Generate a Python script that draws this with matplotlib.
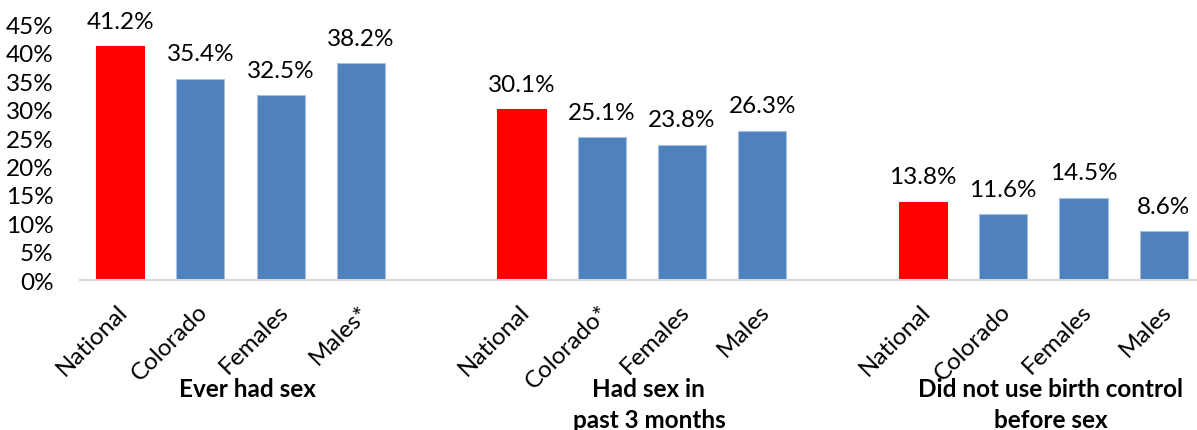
import matplotlib.pyplot as plt

plt.rcParams["font.family"] = ["Lato", "DejaVu Sans"]

groups = ["Ever had sex", "Had sex in\npast 3 months", "Did not use birth control\nbefore sex"]
categories = [
    ["National", "Colorado", "Females", "Males*"],
    ["National", "Colorado*", "Females", "Males"],
    ["National", "Colorado", "Females", "Males"],
]
values = [
    [41.2, 35.4, 32.5, 38.2],
    [30.1, 25.1, 23.8, 26.3],
    [13.8, 11.6, 14.5, 8.6],
]

RED = "#FF0000"
BLUE = "#4F81BD"
FS = 17.5

fig = plt.figure(figsize=(11.97, 4.31), dpi=100)
ax = fig.add_axes([0.0668, 0.348, 0.939, 0.593])

# one empty slot between groups, like a spreadsheet chart with blank rows
slot = 0
for g, (cats, vals) in enumerate(zip(categories, values)):
    xs = []
    for i, (cat, v) in enumerate(zip(cats, vals)):
        color = RED if i == 0 else BLUE
        edge = RED if i == 0 else "#A7C0DE"
        ax.bar(slot, v / 100, width=0.6, color=color, edgecolor=edge, linewidth=0.8)
        ax.annotate(f"{v:.1f}%", (slot, v / 100), xytext=(0, 18),
                    textcoords="offset points", ha="center", va="center",
                    fontsize=FS, color="black")
        ax.annotate(cat, (slot, 0), xytext=(3, -20), textcoords="offset points",
                    rotation=45, rotation_mode="anchor", ha="right", va="center",
                    fontsize=FS, annotation_clip=False)
        xs.append(slot)
        slot += 1
    center = sum(xs) / len(xs)
    ax.annotate(groups[g], (center, 0), xytext=(5, -70), textcoords="offset points",
                ha="center", va="top", fontsize=FS, fontweight="bold",
                linespacing=1.4, annotation_clip=False)
    slot += 1

ax.set_xlim(-0.5, 13.5)
ax.set_ylim(0, 0.45)
ax.set_yticks([i / 100 for i in range(0, 50, 5)])
ax.set_yticklabels([f"{i}%" for i in range(0, 50, 5)], fontsize=FS)
ax.tick_params(axis="y", length=0, pad=19)
ax.set_xticks([])
for side in ["top", "right", "left"]:
    ax.spines[side].set_visible(False)
ax.spines["bottom"].set_color("#D9D9D9")
ax.spines["bottom"].set_linewidth(1.5)

fig.savefig("out.png", dpi=100)
